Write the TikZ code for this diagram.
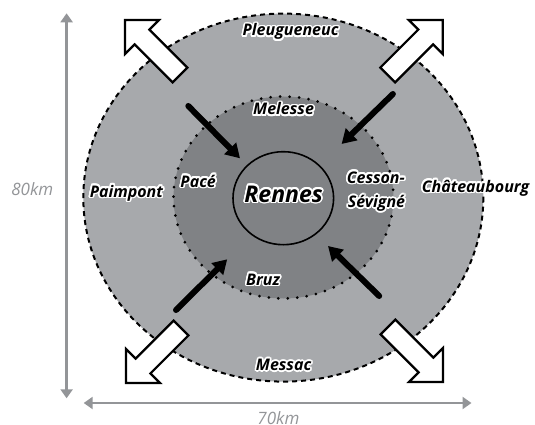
\documentclass[tikz,border=0pt]{standalone}
\usepackage{fontspec}
\setmainfont{Open Sans}
\usepackage{contour}
\contourlength{1.6pt}
\usetikzlibrary{arrows.meta}

\definecolor{ringout}{HTML}{A7A9AC}
\definecolor{ringin}{HTML}{808285}
\definecolor{dimgray}{HTML}{939598}

\tikzset{
  town/.style={font=\bfseries\itshape\fontsize{16}{24.5}\selectfont,inner sep=0pt,anchor=base},
  dimline/.style={dimgray,line width=2.5pt,{Triangle[length=9pt,width=12pt]}-{Triangle[length=9pt,width=12pt]}},
  dimlabel/.style={dimgray,font=\itshape\fontsize{17}{17}\selectfont,inner sep=0pt,anchor=base},
  flow/.style={line width=6pt,line cap=round,-{Triangle[length=14pt,width=16pt]}},
  exitarrow/.style={draw=black,fill=white,line width=2.2pt,line join=miter},
  exit/.pic={\path[exitarrow] (0,0)--(34,0)--(24.4,9.6)--(62.4,47.6)--(47.6,62.4)--(9.6,24.4)--(0,34)--cycle;}
}
\newcommand{\townname}[1]{\contour{white}{#1}}

\begin{document}
\begin{tikzpicture}[x=1pt,y=-1pt]
  \useasboundingbox (0,0) rectangle (535,425);
  \clip (0,0) rectangle (535,425);
  % rings
  \draw[fill=ringout,line width=2pt,dash pattern=on 5pt off 4pt] (283.3,197.6) ellipse [x radius=200,y radius=184];
  \draw[fill=ringin,line width=3pt,line cap=round,dash pattern=on 0pt off 9.5pt] (283.5,197.5) ellipse [x radius=110,y radius=101];
  \draw[line width=1.6pt] (283.3,198.2) ellipse [x radius=50.3,y radius=46.5];
  % outward arrows
  \pic at (125,20) {exit};
  \pic[xscale=-1] at (442.7,20) {exit};
  \pic[yscale=-1] at (126,383) {exit};
  \pic[xscale=-1,yscale=-1] at (443,382) {exit};
  % inward arrows
  \coordinate (nwtail) at (188.3,106);   \coordinate (nwhead) at (240,158.3);
  \coordinate (netail) at (392.9,94);    \coordinate (nehead) at (341.6,144);
  \coordinate (swtail) at (176,310);     \coordinate (swhead) at (227.2,259.3);
  \coordinate (setail) at (379.2,296);   \coordinate (sehead) at (328,246);
  \draw[flow] (nwtail) -- (nwhead);
  \draw[flow] (netail) -- (nehead);
  \draw[flow] (swtail) -- (swhead);
  \draw[flow] (setail) -- (sehead);
  % towns
  \node[town] (pleug) at (290.6,36) {\townname{Pleugueneuc}};
  \node[town] (melesse) at (283.6,115) {\townname{Melesse}};
  \node[town] (paimpont) at (126.4,197) {\townname{Paimpont}};
  \node[town] (pace) at (198.2,187) {\townname{Pacé}};
  \node[town,font=\bfseries\itshape\fontsize{23}{23}\selectfont] (rennes) at (283.6,202) {\townname{Rennes}};
  \node[town] (cesson) at (375.8,183) {\townname{Cesson-}};
  \node[town] (sevigne) at (376.5,207.5) {\townname{Sévigné}};
  \node[town] (chateau) at (475.5,192) {\townname{Châteaubourg}};
  \node[town] (bruz) at (263,285) {\townname{Bruz}};
  \node[town] (messac) at (283.6,370.5) {\townname{Messac}};
  % dimensions
  \coordinate (vtop) at (66.6,13.3);   \coordinate (vbot) at (66.6,398.3);
  \coordinate (hleft) at (83.7,403);   \coordinate (hright) at (471.5,403);
  \draw[dimline] (vtop) -- (vbot);
  \draw[dimline] (hleft) -- (hright);
  \node[dimlabel] (height) at (32.2,195) {80km};
  \node[dimlabel] (width) at (278.4,424) {70km};
\end{tikzpicture}
\end{document}
